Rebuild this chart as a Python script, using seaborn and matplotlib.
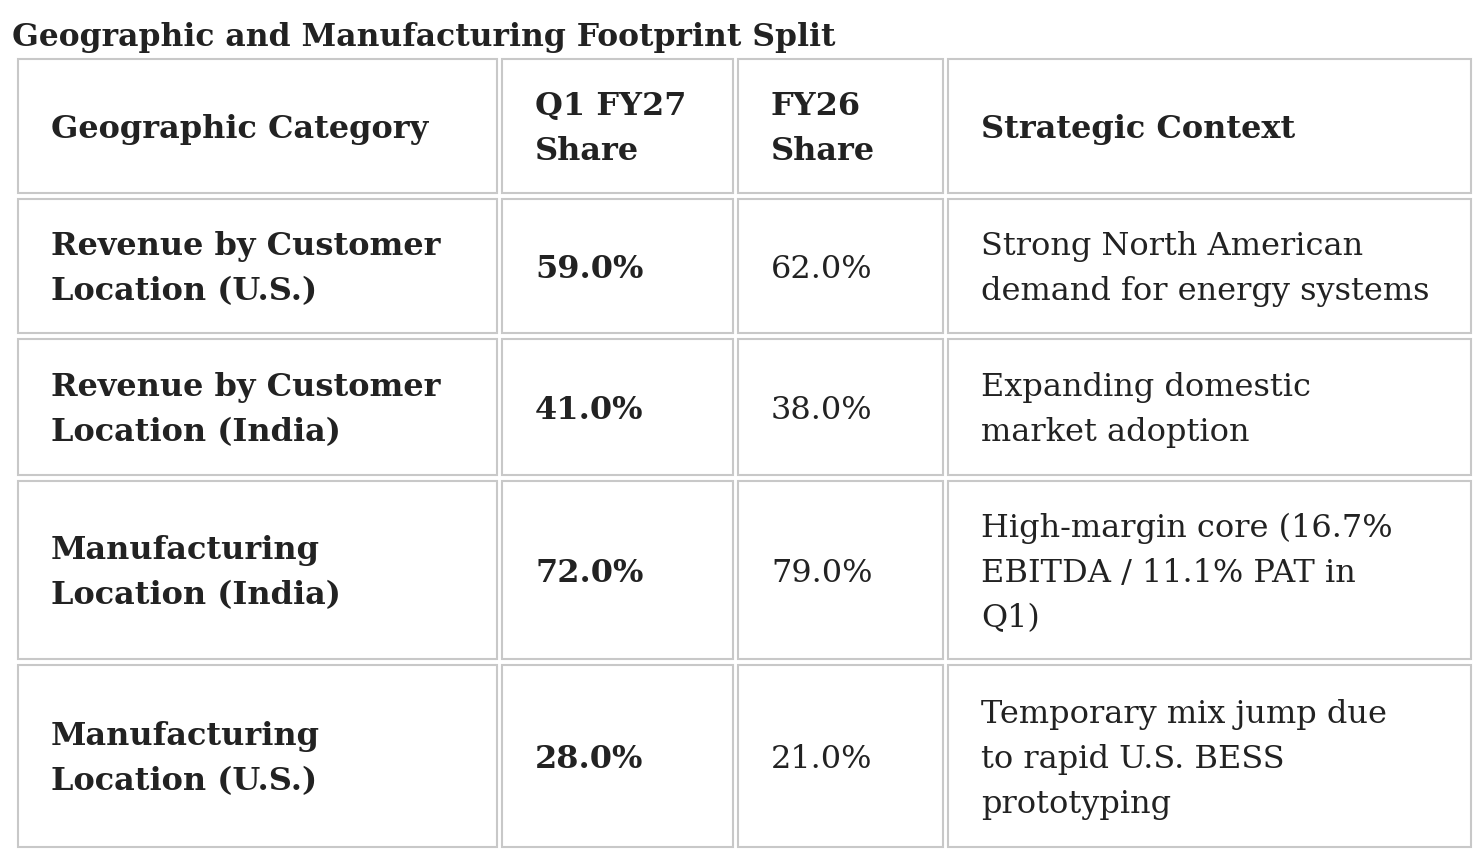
import matplotlib
matplotlib.use("Agg")
import matplotlib.pyplot as plt
from matplotlib.patches import Rectangle
import seaborn as sns

# ---------------- data ----------------
title = "Geographic and Manufacturing Footprint Split"
headers = ["Geographic Category", "Q1 FY27\nShare", "FY26\nShare", "Strategic Context"]
categories = [
    "Revenue by Customer\nLocation (U.S.)",
    "Revenue by Customer\nLocation (India)",
    "Manufacturing\nLocation (India)",
    "Manufacturing\nLocation (U.S.)",
]
q1_fy27_share = [59.0, 41.0, 72.0, 28.0]
fy26_share = [62.0, 38.0, 79.0, 21.0]
contexts = [
    "Strong North American\ndemand for energy systems",
    "Expanding domestic\nmarket adoption",
    "High-margin core (16.7%\nEBITDA / 11.1% PAT in\nQ1)",
    "Temporary mix jump due\nto rapid U.S. BESS\nprototyping",
]

# ---------------- layout / style ----------------
W, H = 1480, 866
col_edges = [(18, 497), (502, 733), (738, 943), (948, 1471)]
row_edges = [(59, 193), (199, 333), (339, 475), (481, 659), (665, 847)]
pad_x = 33
pitch = 45
border_col = "#c8c8c8"
text_col = "#222222"
fs = 23
fs_title = 22.6

sns.set_theme(style="white")
plt.rcParams["font.family"] = ["DejaVu Serif"]

fig = plt.figure(figsize=(W / 100, H / 100), dpi=100)
ax = fig.add_axes([0, 0, 1, 1])
ax.set_xlim(0, W)
ax.set_ylim(H, 0)
ax.axis("off")

cap = fs * 100 / 72 * 0.73


def cell_text(text, col, row, weight):
    x0, x1 = col_edges[col]
    y0, y1 = row_edges[row]
    lines = text.split("\n")
    n = len(lines)
    yc = (y0 + y1) / 2
    for i, ln in enumerate(lines):
        yb = yc + (i - (n - 1) / 2) * pitch + cap / 2
        ax.text(x0 + pad_x, yb, ln, ha="left", va="baseline", fontsize=fs,
                fontweight=weight, color=text_col)


rows = [headers] + [
    [categories[i], f"{q1_fy27_share[i]:.1f}%", f"{fy26_share[i]:.1f}%", contexts[i]]
    for i in range(len(categories))
]
weights_body = ["bold", "bold", "normal", "normal"]

for r, row in enumerate(rows):
    y0, y1 = row_edges[r]
    for c, txt in enumerate(row):
        x0, x1 = col_edges[c]
        ax.add_patch(Rectangle((x0, y0), x1 - x0, y1 - y0, facecolor="white",
                               edgecolor=border_col, linewidth=1.5))
        w = "bold" if r == 0 else weights_body[c]
        cell_text(txt, c, r, w)

ax.text(12, 46, title, ha="left", va="baseline", fontsize=fs_title, fontweight="bold",
        color=text_col)

fig.savefig("out.png", dpi=100)
